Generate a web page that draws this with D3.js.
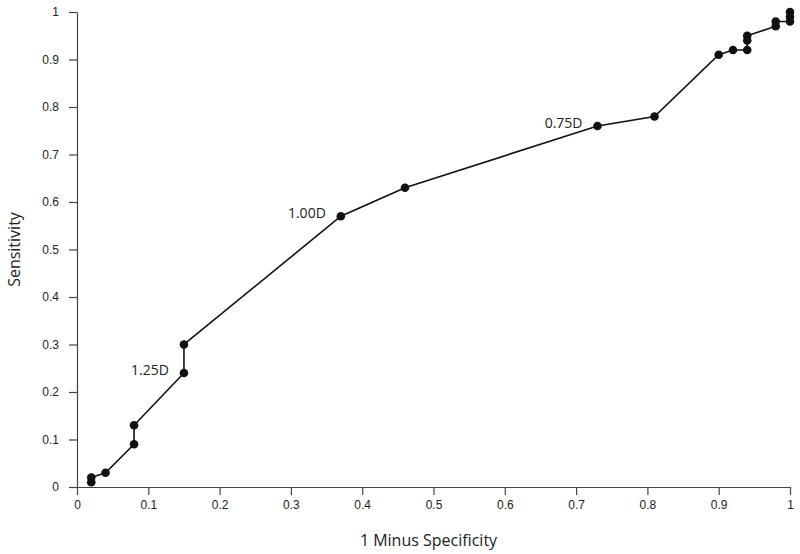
<!DOCTYPE html>
<html>
<head>
<meta charset="utf-8">
<script src="https://cdn.jsdelivr.net/npm/d3@7"></script>
<style>
  body { margin: 0; background: #fff; }
  svg { display: block; font-family: "Open Sans", "DejaVu Sans", sans-serif; }
</style>
</head>
<body>
<div id="chart"></div>
<script>
const specificity = [0.02, 0.02, 0.04, 0.08, 0.08, 0.15, 0.15, 0.37, 0.46, 0.73, 0.81, 0.90, 0.92, 0.94, 0.94, 0.94, 0.98, 0.98, 1.00, 1.00, 1.00];
const sensitivity = [0.01, 0.02, 0.03, 0.09, 0.13, 0.24, 0.30, 0.57, 0.63, 0.76, 0.78, 0.91, 0.92, 0.92, 0.94, 0.95, 0.97, 0.98, 0.98, 0.99, 1.00];
const tickValues = [0, 0.1, 0.2, 0.3, 0.4, 0.5, 0.6, 0.7, 0.8, 0.9, 1];
const annotations = [
  { text: "1.25D", x: 0.15, y: 0.24 },
  { text: "1.00D", x: 0.37, y: 0.57 },
  { text: "0.75D", x: 0.73, y: 0.76 }
];

const width = 800, height = 554;
const margin = { top: 12, right: 10, bottom: 67, left: 77 };

const svg = d3.select("#chart")
  .append("svg")
  .attr("width", width)
  .attr("height", height);

const x = d3.scaleLinear().domain([0, 1]).range([margin.left, width - margin.right]);
const y = d3.scaleLinear().domain([0, 1]).range([height - margin.bottom, margin.top]);

const fmt = (d) => (d === 0 || d === 1 ? String(d) : d.toFixed(1));

const xAxisG = svg.append("g")
  .attr("transform", `translate(0,${y(0)})`)
  .call(d3.axisBottom(x).tickValues(tickValues).tickFormat(fmt).tickSize(8).tickSizeOuter(0).tickPadding(5));

const yAxisG = svg.append("g")
  .attr("transform", `translate(${x(0)},0)`)
  .call(d3.axisLeft(y).tickValues(tickValues).tickFormat(fmt).tickSize(8).tickSizeOuter(0).tickPadding(10));

[xAxisG, yAxisG].forEach((g) => {
  g.select(".domain").attr("stroke", "#444").attr("stroke-width", 1.2);
  g.selectAll(".tick line").attr("stroke", "#444").attr("stroke-width", 1.2);
  g.selectAll(".tick text").attr("fill", "#222").style("font-size", "12px");
});

svg.append("text")
  .attr("x", (x(0) + x(1)) / 2 - 5)
  .attr("y", 546)
  .attr("text-anchor", "middle")
  .attr("fill", "#222")
  .style("font-size", "16px")
  .text("1 Minus Specificity");

svg.append("text")
  .attr("transform", "rotate(-90)")
  .attr("x", -(y(0) + y(1)) / 2)
  .attr("y", 20)
  .attr("text-anchor", "middle")
  .attr("fill", "#222")
  .style("font-size", "16px")
  .text("Sensitivity");

const data = specificity.map((s, i) => ({ x: s, y: sensitivity[i] }));

const line = d3.line()
  .x((d) => x(d.x))
  .y((d) => y(d.y));

svg.append("path")
  .datum(data)
  .attr("fill", "none")
  .attr("stroke", "#111")
  .attr("stroke-width", 1.6)
  .attr("d", line);

svg.selectAll("circle")
  .data(data)
  .enter()
  .append("circle")
  .attr("cx", (d) => x(d.x))
  .attr("cy", (d) => y(d.y))
  .attr("r", 4.3)
  .attr("fill", "#111");

svg.selectAll(".annot")
  .data(annotations)
  .enter()
  .append("text")
  .attr("class", "annot")
  .attr("x", (d) => x(d.x) - 15)
  .attr("y", (d) => y(d.y) + 2)
  .attr("text-anchor", "end")
  .attr("fill", "#222")
  .style("font-size", "14px")
  .text((d) => d.text);
</script>
</body>
</html>
